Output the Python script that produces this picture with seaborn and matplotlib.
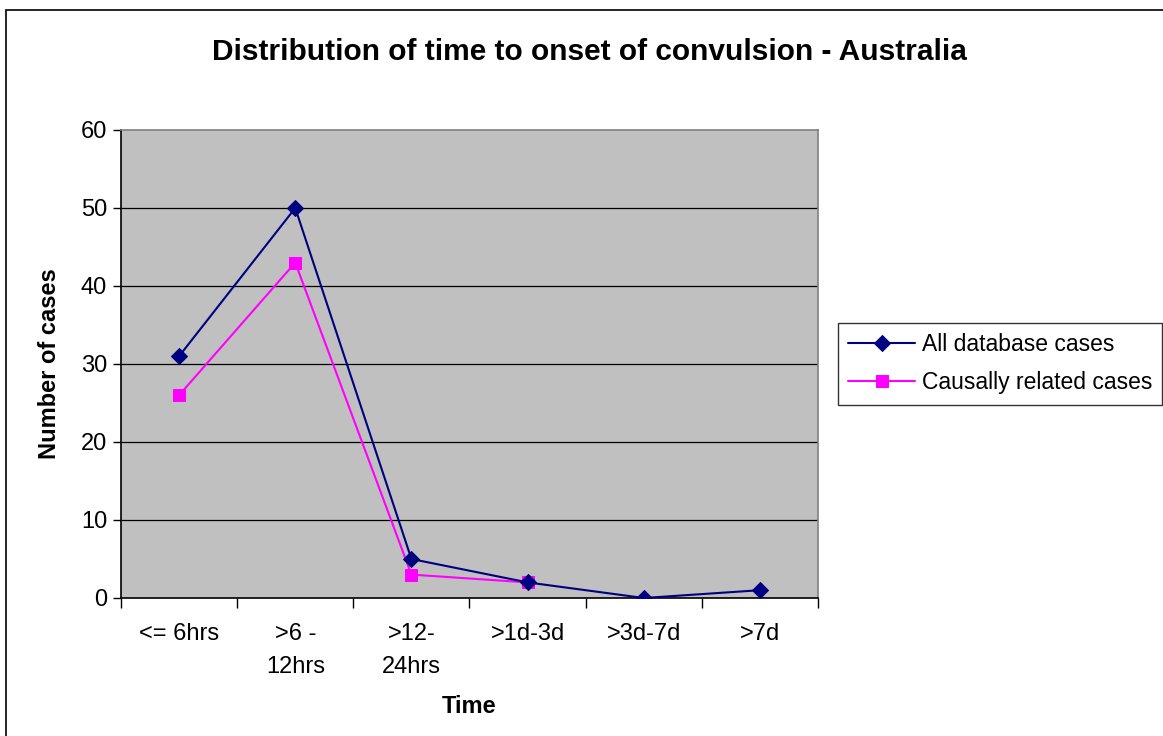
import matplotlib
matplotlib.use("Agg")
import matplotlib.pyplot as plt
import seaborn as sns
import numpy as np
import pandas as pd
from matplotlib.patches import Rectangle
from matplotlib.ticker import FixedLocator, NullFormatter

categories = ["<= 6hrs", ">6 -\n12hrs", ">12-\n24hrs", ">1d-3d", ">3d-7d", ">7d"]
all_cases = [31, 50, 5, 2, 0, 1]
causal_cases = [26, 43, 3, 2, np.nan, np.nan]
series_names = ["All database cases", "Causally related cases"]
y_ticks = [0, 10, 20, 30, 40, 50, 60]

sns.set_theme(style="white")
plt.rcParams['font.family'] = ['Liberation Sans', 'DejaVu Sans']
plt.rcParams['text.color'] = 'black'
plt.rcParams['axes.labelcolor'] = 'black'
plt.rcParams['xtick.color'] = 'black'
plt.rcParams['ytick.color'] = 'black'

fig = plt.figure(figsize=(11.63, 7.36), dpi=100)
fig.patch.set_facecolor("white")
ax = fig.add_axes([121/1163, 1-598/736, (818-121)/1163, (598-130)/736])
ax.set_facecolor("#C0C0C0")

x = np.arange(len(categories))
df_all = pd.DataFrame({"x": x, "y": all_cases})
df_c = pd.DataFrame({"x": x, "y": causal_cases}).dropna()

sns.lineplot(data=df_all, x="x", y="y", ax=ax, color="#000080", marker="D",
             markersize=8, markeredgecolor="#000080", linewidth=1.5,
             label=series_names[0], sort=False, zorder=4)
sns.lineplot(data=df_c, x="x", y="y", ax=ax, color="#FF00FF", marker="s",
             markersize=9, markeredgecolor="#FF00FF", linewidth=1.5,
             label=series_names[1], sort=False, zorder=3)

ax.set_xlim(-0.5, len(categories) - 0.5)
ax.set_ylim(0, 60)
ax.set_yticks(y_ticks)
ax.set_yticklabels([str(v) for v in y_ticks], fontsize=17)
for v in y_ticks[1:-1]:
    ax.axhline(v, color="black", linewidth=0.9, zorder=1)

ax.xaxis.set_major_locator(FixedLocator(np.arange(-0.5, len(categories), 1.0)))
ax.xaxis.set_major_formatter(NullFormatter())
ax.xaxis.set_minor_locator(FixedLocator(x))
ax.set_xticklabels(categories, minor=True, fontsize=17, linespacing=1.65, va="top")
ax.tick_params(axis="x", which="major", direction="out", length=7, width=1, color="black", bottom=True)
ax.tick_params(axis="x", which="minor", length=0, pad=18, bottom=True)
ax.tick_params(axis="y", direction="out", length=6, width=1, color="black", left=True, pad=4)

for side in ["left", "bottom"]:
    ax.spines[side].set_color("black")
    ax.spines[side].set_linewidth(1.2)
for side in ["top", "right"]:
    ax.spines[side].set_color("#808080")
    ax.spines[side].set_linewidth(1.2)

ax.set_xlabel("Time", fontsize=17, fontweight="bold", labelpad=12)
ax.set_ylabel("Number of cases", fontsize=17, fontweight="bold", labelpad=14)

fig.text(589/1163, 1-52/736, "Distribution of time to onset of convulsion - Australia",
         ha="center", va="center", fontsize=21.5, fontweight="bold")

leg = ax.legend(loc="upper left", bbox_to_anchor=(838/1163, 1-323/736),
                bbox_transform=fig.transFigure, frameon=True, fancybox=False,
                edgecolor="black", fontsize=16.5, handlelength=2.9, borderpad=0.45,
                labelspacing=0.65, handletextpad=0.3, borderaxespad=0)
leg.get_frame().set_linewidth(1.0)

fig.patches.append(Rectangle((6/1163, -0.05), 1.2, (736-10)/736 + 0.05, transform=fig.transFigure,
                             fill=False, edgecolor="black", linewidth=1.2, zorder=0))

fig.savefig("out.png", dpi=100)
